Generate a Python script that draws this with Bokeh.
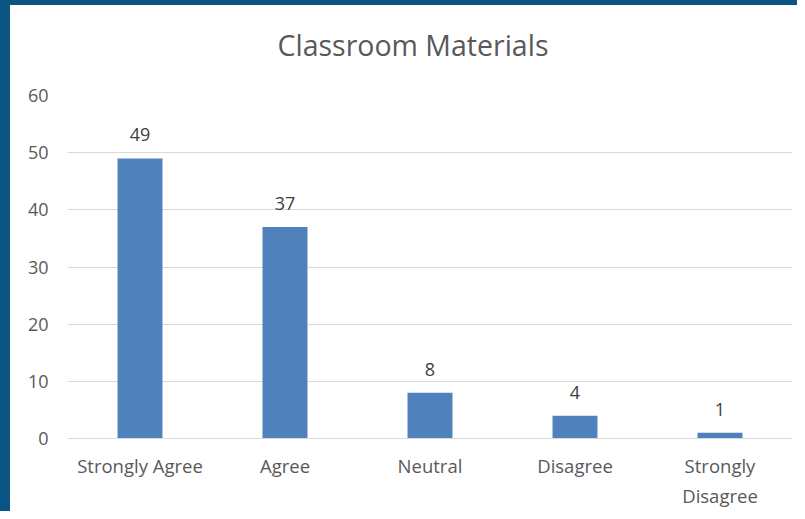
from bokeh.plotting import figure
from bokeh.layouts import column
from bokeh.models import ColumnDataSource, LabelSet, Title
from bokeh.core.properties import value
from bokeh.embed import file_html
from bokeh.resources import INLINE

categories = ["Strongly Agree", "Agree", "Neutral", "Disagree", "Strongly\nDisagree"]
counts = [49, 37, 8, 4, 1]
y_ticks = [0, 10, 20, 30, 40, 50, 60]
title_text = "Classroom Materials"

FONT = "Open Sans"
GREY = "#595959"

src = ColumnDataSource(dict(cat=categories, val=counts, lbl=[str(c) for c in counts]))

p = figure(x_range=categories, y_range=(0, 60), width=787, height=506,
           output_backend="svg", toolbar_location=None,
           min_border_left=57, min_border_right=5, min_border_top=90, min_border_bottom=73)

# spacer panel between the frame and the title
spacer = Title(text=" ", text_font_size="1px", standoff=29)
p.add_layout(spacer, "above")
t = Title(text=title_text, align="left", text_font=FONT, text_font_size="28.5px",
          text_color=GREY, text_font_style="normal", standoff=0, offset=210)
p.add_layout(t, "above")

p.vbar(x="cat", top="val", width=0.31, source=src, color="#4F81BD", line_color=None)

labels = LabelSet(x="cat", y="val", text="lbl", source=src, y_offset=17,
                  text_align="center", text_baseline="bottom",
                  text_font=value(FONT), text_font_size="18px", text_color="#404040")
p.add_layout(labels)

p.outline_line_color = None
p.background_fill_color = "white"
p.border_fill_color = "white"

p.xgrid.grid_line_color = None
p.ygrid.grid_line_color = "#D9D9D9"
p.ygrid.grid_line_width = 1

p.yaxis.ticker = y_ticks
p.yaxis.axis_line_color = None
p.yaxis.major_tick_line_color = None
p.yaxis.minor_tick_line_color = None
p.yaxis.major_label_text_font = FONT
p.yaxis.major_label_text_font_size = "18px"
p.yaxis.major_label_text_color = GREY
p.yaxis.major_label_standoff = 13

p.xaxis.axis_line_color = "#D9D9D9"
p.xaxis.major_tick_line_color = None
p.xaxis.minor_tick_line_color = None
p.xaxis.major_label_text_font = FONT
p.xaxis.major_label_text_font_size = "18.5px"
p.xaxis.major_label_text_color = GREY
p.xaxis.major_label_standoff = 8

p.x_range.range_padding = 0

layout = column(p, styles={"border-left": "10px solid #0B5585",
                           "border-top": "5px solid #0B5585"})

open("out.html", "w").write(file_html(layout, INLINE))
